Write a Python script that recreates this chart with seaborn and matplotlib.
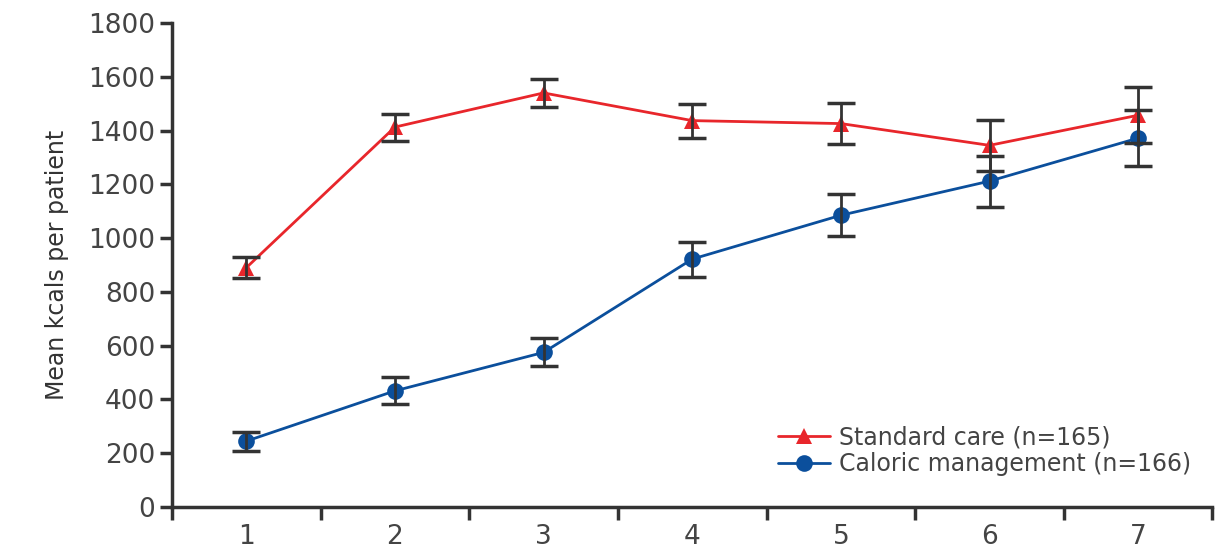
import pandas as pd
import numpy as np
import matplotlib.pyplot as plt
import seaborn as sns

days = [1, 2, 3, 4, 5, 6, 7]
standard_mean = [890, 1413, 1540, 1437, 1426, 1345, 1457]
standard_err = [38, 50, 52, 63, 76, 95, 105]
caloric_mean = [245, 432, 575, 922, 1085, 1212, 1372]
caloric_err = [35, 50, 52, 65, 78, 95, 104]
labels = ["Standard care (n=165)", "Caloric management (n=166)"]
colores = ["#e8262b", "#0b4f9c"]

def crear_df(medias, errores, nombre):
	df = pd.DataFrame({"dia": days, "kcal": medias, "err": errores, "grupo": nombre})
	return df

dfs = pd.concat([crear_df(standard_mean, standard_err, labels[0]),
                 crear_df(caloric_mean, caloric_err, labels[1])], ignore_index=True)

sns.set_style("white")
plt.rcParams['font.family'] = ['DejaVu Sans']

fig = plt.figure(figsize=(12.17, 5.48), dpi=100)
ax = fig.add_axes([0.1413, 0.0748, 0.855, 0.8832])

sns.lineplot(data=dfs, x="dia", y="kcal", hue="grupo", style="grupo",
             markers=["^", "o"], dashes=False, palette=colores,
             markersize=12, markeredgewidth=0, linewidth=2, ax=ax)

# barras de error
for nombre in labels:
	sub = dfs[dfs["grupo"] == nombre]
	ax.errorbar(sub["dia"], sub["kcal"], yerr=sub["err"], fmt="none",
	            ecolor="#333333", elinewidth=2, capsize=10, capthick=2.5, zorder=5)

ax.set_xlim(0.5, 7.5)
ax.set_ylim(0, 1800)
ax.set_yticks(np.arange(0, 1801, 200))
ax.set_xticks(np.arange(0.5, 7.6, 1))
ax.set_xticklabels([])
ax.set_xticks(days, minor=True)
ax.set_xticklabels([str(d) for d in days], minor=True)
ax.tick_params(axis="x", which="minor", bottom=True, length=0, pad=12, labelsize=19, labelcolor="#444444")
ax.tick_params(axis="x", which="major", bottom=True, length=9, width=2.5, color="#333333", direction="out")
ax.tick_params(axis="y", left=True, length=9, width=2.5, color="#333333", labelsize=19,
               labelcolor="#444444", direction="out", pad=3)

for s in ["top", "right"]:
	ax.spines[s].set_visible(False)
for s in ["left", "bottom"]:
	ax.spines[s].set_color("#333333")
	ax.spines[s].set_linewidth(2.5)

ax.set_xlabel("")
ax.set_ylabel("Mean kcals per patient", fontsize=17, color="#333333", labelpad=14)

handles, leg_labels = ax.get_legend_handles_labels()
ax.legend(handles, leg_labels, loc="lower right", bbox_to_anchor=(1.0, 0.02),
          frameon=False, fontsize=17, labelcolor="#444444", handlelength=2.2,
          handletextpad=0.4, labelspacing=0.1)

plt.savefig("out.png", dpi=100)
